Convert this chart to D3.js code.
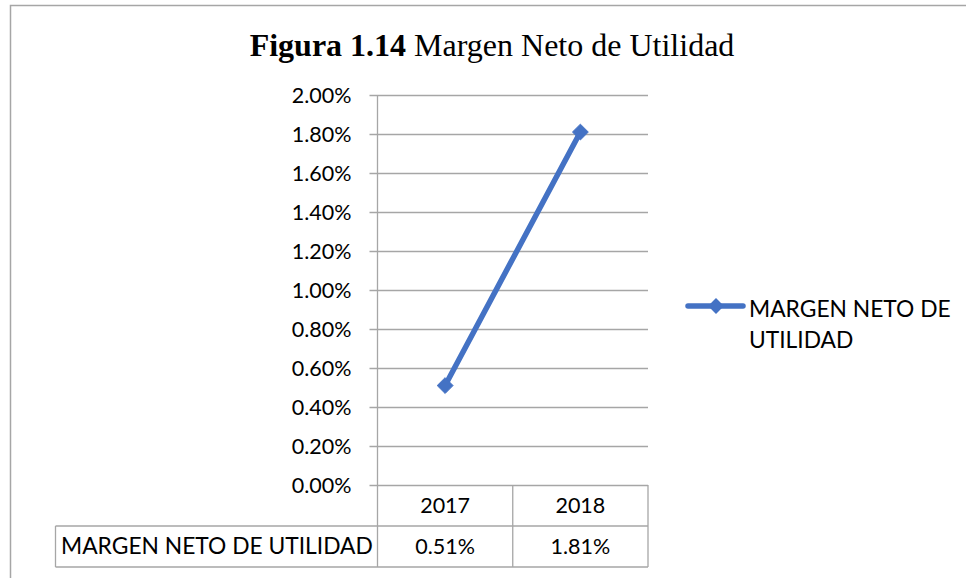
<!DOCTYPE html>
<html>
<head>
<meta charset="utf-8">
<script src="https://cdn.jsdelivr.net/npm/d3@7"></script>
<style>
  html, body { margin: 0; padding: 0; background: #fff; }
  svg { display: block; }
  .lbl { font-family: Lato, "Liberation Sans", sans-serif; font-size: 21.5px; fill: #000; }
  .caps { font-size: 22.8px; }
</style>
</head>
<body>
<svg id="chart" width="966" height="578"></svg>
<script>
// data
const categories = ['2017', '2018'];
const seriesName = 'MARGEN NETO DE UTILIDAD';
const values = [0.0051, 0.0181];
const yTicks = [0, 0.002, 0.004, 0.006, 0.008, 0.010, 0.012, 0.014, 0.016, 0.018, 0.020];

const W = 966, H = 578;
const plot = { left: 377.5, right: 648, top: 95, bottom: 485 };
const rowH = 41;
const gridColor = '#a6a6a6';
const lineColor = '#4472c4';

const svg = d3.select('#chart');

// outer frame (only top + left visible in the crop)
svg.append('path')
  .attr('d', `M10.5,${H} V5.5 H${W}`)
  .attr('fill', 'none')
  .attr('stroke', '#a6a6a6')
  .attr('stroke-width', 1.5);

// title
const title = svg.append('text')
  .attr('x', 492)
  .attr('y', 56)
  .attr('text-anchor', 'middle')
  .style('font-family', '"Liberation Serif", "Times New Roman", serif')
  .style('font-size', '32px');
title.append('tspan').attr('font-weight', 'bold').text('Figura 1.14');
title.append('tspan').text(' Margen Neto de Utilidad');

// scales
const x = d3.scaleBand().domain(categories).range([plot.left, plot.right]);
const y = d3.scaleLinear().domain([0, 0.02]).range([plot.bottom, plot.top]);
const fmt = d3.format('.2%');

// gridlines + y axis
const yAxis = d3.axisLeft(y)
  .tickValues(yTicks)
  .tickFormat(fmt)
  .tickSize(-(plot.right - plot.left))
  .tickPadding(0);

const gy = svg.append('g')
  .attr('transform', `translate(${plot.left},0)`)
  .call(yAxis);
gy.select('.domain').remove();
gy.selectAll('.tick line')
  .attr('x1', -8)
  .attr('stroke', gridColor)
  .attr('stroke-width', 1.3);
gy.selectAll('.tick text')
  .attr('class', 'lbl')
  .attr('x', -26)
  .attr('dy', '0.36em');

// data table grid
const tbl = svg.append('g')
  .attr('fill', 'none')
  .attr('stroke', gridColor)
  .attr('stroke-width', 1.3);

// vertical axis line running down into the table
tbl.append('line')
  .attr('x1', plot.left).attr('x2', plot.left)
  .attr('y1', plot.top).attr('y2', plot.bottom + rowH * 2);

// category column boundaries
categories.forEach(c => {
  const xr = x(c) + x.bandwidth();
  tbl.append('line')
    .attr('x1', xr).attr('x2', xr)
    .attr('y1', plot.bottom).attr('y2', plot.bottom + rowH * 2);
});
// horizontal lines of the table
tbl.append('line')
  .attr('x1', 55.5).attr('x2', plot.right)
  .attr('y1', plot.bottom + rowH).attr('y2', plot.bottom + rowH);
tbl.append('line')
  .attr('x1', 55.5).attr('x2', plot.right)
  .attr('y1', plot.bottom + rowH * 2).attr('y2', plot.bottom + rowH * 2);
tbl.append('line')
  .attr('x1', 55.5).attr('x2', 55.5)
  .attr('y1', plot.bottom + rowH).attr('y2', plot.bottom + rowH * 2);

// category labels
svg.selectAll('.cat')
  .data(categories)
  .enter().append('text')
  .attr('class', 'lbl')
  .attr('x', d => x(d) + x.bandwidth() / 2)
  .attr('y', plot.bottom + 28)
  .attr('text-anchor', 'middle')
  .text(d => d);

// value row
svg.append('text')
  .attr('class', 'lbl caps')
  .attr('x', 61)
  .attr('y', plot.bottom + rowH + 28)
  .text(seriesName);

svg.selectAll('.val')
  .data(values)
  .enter().append('text')
  .attr('class', 'lbl')
  .attr('x', (d, i) => x(categories[i]) + x.bandwidth() / 2)
  .attr('y', plot.bottom + rowH + 28)
  .attr('text-anchor', 'middle')
  .text(d => fmt(d));

// series line
const pts = values.map((v, i) => [x(categories[i]) + x.bandwidth() / 2, y(v)]);
svg.append('path')
  .datum(pts)
  .attr('d', d3.line())
  .attr('fill', 'none')
  .attr('stroke', lineColor)
  .attr('stroke-width', 5.5)
  .attr('stroke-linecap', 'round');

const diamond = d3.symbol().type(d3.symbolDiamond2).size(160);
svg.selectAll('.mk')
  .data(pts)
  .enter().append('path')
  .attr('d', diamond)
  .attr('transform', d => `translate(${d[0]},${d[1]})`)
  .attr('fill', lineColor)
  .attr('stroke', lineColor)
  .attr('stroke-width', 1);

// legend
const lg = svg.append('g').attr('transform', 'translate(688,306)');
lg.append('line')
  .attr('x1', 0).attr('x2', 55)
  .attr('stroke', lineColor)
  .attr('stroke-width', 5.5)
  .attr('stroke-linecap', 'round');
lg.append('path')
  .attr('d', diamond)
  .attr('transform', 'translate(28,0)')
  .attr('fill', lineColor);
const lt = lg.append('text').attr('class', 'lbl caps');
lt.append('tspan').attr('x', 61).attr('y', 11).text('MARGEN NETO DE');
lt.append('tspan').attr('x', 61).attr('y', 42).text('UTILIDAD');
</script>
</body>
</html>
